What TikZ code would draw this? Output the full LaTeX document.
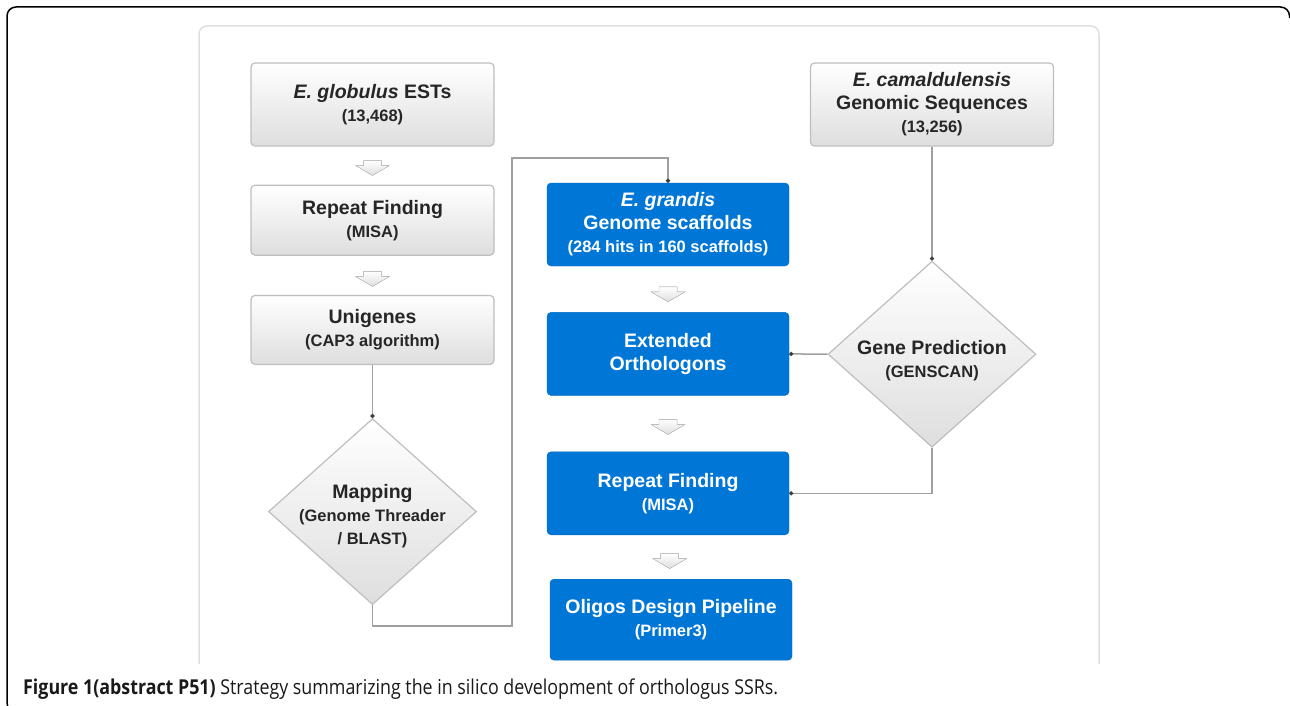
\documentclass[tikz,border=0pt]{standalone}
\usepackage{fontspec}
\setmainfont{Liberation Sans}
\newfontfamily\capfont[FakeStretch=0.87]{Open Sans}
\usetikzlibrary{positioning, shapes.geometric, arrows.meta}

\definecolor{msblue}{RGB}{0,118,214}
\definecolor{boxgrey}{RGB}{222,222,222}
\definecolor{boxline}{RGB}{190,190,190}
\definecolor{linegrey}{RGB}{160,160,160}

\newcommand{\subl}[1]{{\fontsize{16.5}{20}\selectfont #1}}

\tikzset{chev/.pic={
    \filldraw[draw=boxline, top color=white, bottom color=boxgrey]
      (-9,-7) -- (9,-7) -- (9,-2) -- (17,-2) -- (0,8) -- (-17,-2) -- (-9,-2) -- cycle;
  }}

\begin{document}
\begin{tikzpicture}[x=1pt, y=-1pt,
    greybox/.style={
      rectangle,
      rounded corners=4pt,
      draw=boxline,
      line width=1.2pt,
      top color=white,
      bottom color=boxgrey,
      minimum width=243pt,
      text=black!85,
      align=center,
      font=\fontsize{19.5}{23}\selectfont\bfseries
    },
    bluebox/.style={
      rectangle,
      rounded corners=4pt,
      fill=msblue,
      draw=msblue!90!black,
      minimum width=242pt,
      minimum height=83pt,
      text=white,
      align=center,
      font=\fontsize{19.5}{23}\selectfont\bfseries
    },
    decide/.style={
      diamond,
      draw=boxline,
      line width=1.2pt,
      top color=white,
      bottom color=boxgrey,
      minimum width=208pt,
      minimum height=186pt,
      inner sep=0pt
    },
    dtext/.style={align=center, text=black!85, font=\fontsize{19.5}{23}\selectfont\bfseries},
    link/.style={draw=linegrey, line width=1.5pt, -{Circle[length=4pt, color=black!75]}},
    node distance=40pt]
  \useasboundingbox (0,0) rectangle (1290,706);
  \clip (0,0) rectangle (1290,706);

  % frame and panel
  \draw[line width=1.5pt, rounded corners=9pt] (20,712) -- (7,712) -- (7,7) -- (1289.5,7) -- (1289.5,18);
  \draw[gray!25, line width=1.5pt, rounded corners=8pt] (199,664) -- (199,26) -- (1099,26) -- (1099,664);

  % left column
  \node[greybox, minimum height=83pt] (ests) at (372.5,104.5) {\textit{E. globulus} ESTs\\\subl{(13,468)}};
  \node[greybox, minimum height=70pt, below=38pt of ests] (rep1) {Repeat Finding\\\subl{(MISA)}};
  \node[greybox, minimum height=69pt, below=39pt of rep1] (uni) {Unigenes\\\subl{(CAP3 algorithm)}};
  \node[decide, below=53pt of uni,
    label={[dtext, yshift=-5pt]center:{Mapping\\\subl{(Genome Threader}\\\subl{/ BLAST)}}}] (map) {};

  % right column
  \node[greybox, minimum height=83pt] (camal) at (932,104.5) {\textit{E. camaldulensis}\\Genomic Sequences\\\subl{(13,256)}};
  \node[decide, below=114pt of camal,
    label={[dtext, yshift=-6pt]center:{Gene Prediction\\\subl{(GENSCAN)}}}] (gene) {};

  % middle column
  \node[bluebox] (grandis) at (668,224.5) {\textit{E. grandis}\\Genome scaffolds\\\subl{(284 hits in 160 scaffolds)}};
  \node[bluebox, below=46pt of grandis] (ext) {Extended\\Orthologons};
  \node[bluebox, below=56pt of ext] (rep2) {Repeat Finding\\\subl{(MISA)}};
  \node[bluebox, minimum height=81pt, below=44pt of rep2, xshift=3pt] (oli) {Oligos Design Pipeline\\\subl{(Primer3)}};

  % chevrons
  \path (ests.south) -- (rep1.north) pic[pos=0.55]{chev};
  \path (rep1.south) -- (uni.north) pic[pos=0.58]{chev};
  \path (grandis.south) -- (ext.north) pic[pos=0.6]{chev};
  \path (ext.south) -- (rep2.north) pic[pos=0.55]{chev};
  \path (rep2.south) -- (oli.north) pic[pos=0.58]{chev};

  % connectors
  \coordinate (m1) at (512,626);
  \coordinate (m2) at (512,158);
  \draw[link] (uni.south) -- (map.north);
  \draw[link] (map.south) |- (m1) -- (m2) -| (grandis.north);
  \draw[link] (camal.south) -- (gene.north);
  \draw[link] (gene.west) -- (ext.east);
  \draw[link] (gene.south) |- (rep2.east);

  \node[anchor=base west, inner sep=0pt, text=black!90, font=\capfont\fontsize{20.5}{23}\selectfont] (cap) at (23,694)
    {\textbf{Figure 1(abstract P51)} Strategy summarizing the in silico development of orthologus SSRs.};
\end{tikzpicture}
\end{document}
